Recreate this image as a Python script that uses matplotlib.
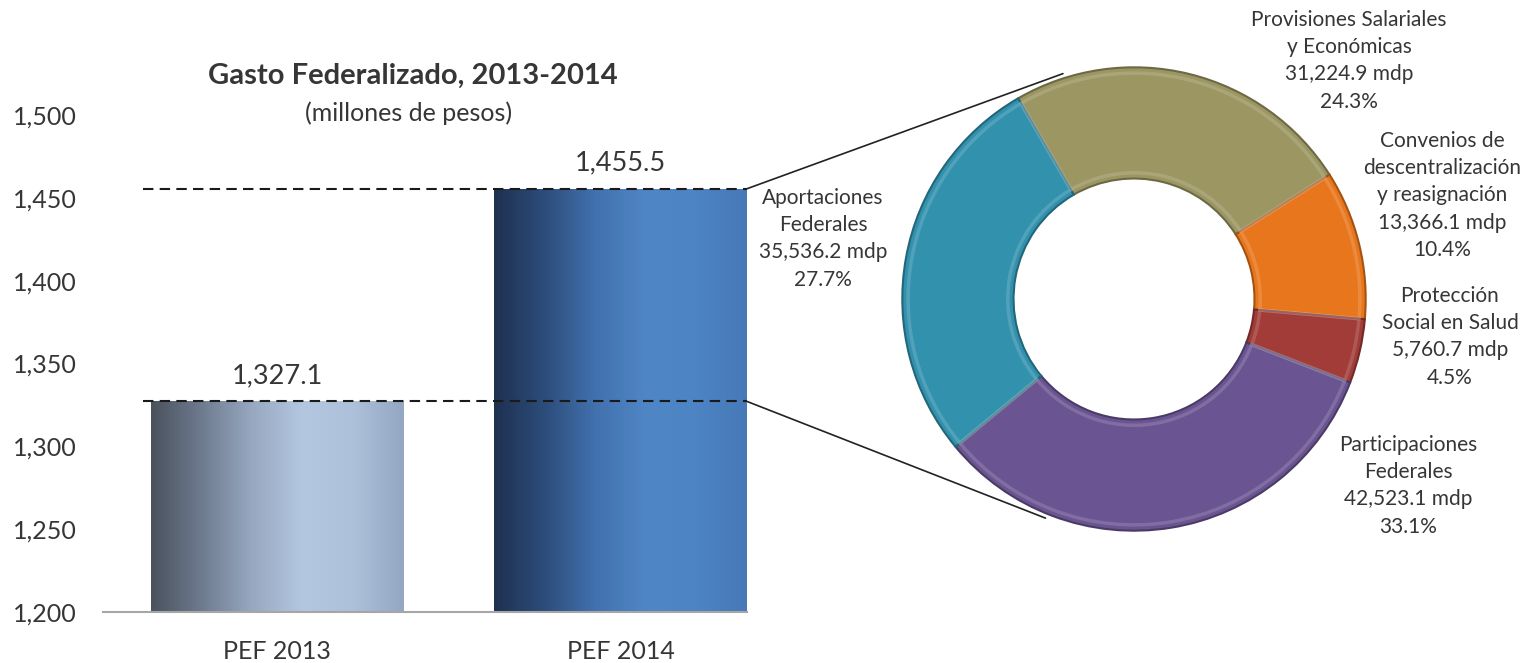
import numpy as np
import matplotlib.pyplot as plt
from matplotlib.colors import LinearSegmentedColormap, to_rgb
from matplotlib.patches import ConnectionPatch

plt.rcParams['font.family'] = ['Lato', 'DejaVu Sans']

# data
years = ["PEF 2013", "PEF 2014"]
totals = [1327.1, 1455.5]
yticks = [1200, 1250, 1300, 1350, 1400, 1450, 1500]

parts = ["Provisiones Salariales\ny Económicas",
         "Convenios de\ndescentralización\ny reasignación",
         "Protección\nSocial en Salud",
         "Participaciones\nFederales",
         "Aportaciones\nFederales"]
amounts = [31224.9, 13366.1, 5760.7, 42523.1, 35536.2]
shares = [24.3, 10.4, 4.5, 33.1, 27.7]

W, H = 1535, 663
fig = plt.figure(figsize=(W / 100, H / 100), dpi=100)
txt = '#363636'

# ---- bar chart ----
ax = fig.add_axes([103 / W, (H - 612) / H, 644 / W, 497 / H])
width = 0.735
bars = ax.bar(range(2), [t - 1200 for t in totals], bottom=1200, width=width,
              color='none', edgecolor='none')

grads = [
    ['#4a525d', '#6e7b8f', '#97a8c0', '#b4c7e1', '#aec1db', '#93a7c2'],
    ['#1e3150', '#2c4d7b', '#4271ae', '#4f86c6', '#4d84c4', '#4679b7'],
]
for b, g in zip(bars, grads):
    cmap = LinearSegmentedColormap.from_list('g', g)
    x0, y0 = b.get_x(), b.get_y()
    im = ax.imshow(np.linspace(0, 1, 256).reshape(1, -1), cmap=cmap,
                   extent=[x0, x0 + b.get_width(), y0, y0 + b.get_height()],
                   aspect='auto', zorder=2)
    im.set_clip_path(b)

for i, t in enumerate(totals):
    ax.text(i, t + 8, f"{t:,.1f}", ha='center', va='bottom', fontsize=19.5, color=txt)
    ax.plot([-0.39, 1 + width / 2], [t, t], ls=(0, (5, 3)), color='#1a1a1a', lw=1.5, zorder=3)

ax.set_xlim(-0.506, 1 + width / 2)
ax.set_ylim(1200, 1500)
ax.set_yticks(yticks)
ax.set_yticklabels([f"{v:,}" for v in yticks], fontsize=18, color=txt)
ax.set_xticks(range(2))
ax.set_xticklabels(years, fontsize=18, color=txt)
ax.tick_params(length=0, axis='y', pad=19)
ax.tick_params(length=0, axis='x', pad=20)
for s in ['top', 'right', 'left']:
    ax.spines[s].set_visible(False)
ax.spines['bottom'].set_color('#a6a6a6')
ax.spines['bottom'].set_linewidth(1.5)

fig.text(413 / W, 1 - 76 / H, "Gasto Federalizado, 2013-2014", ha='center', va='center',
         fontsize=21, fontweight='bold', color=txt)
fig.text(409 / W, 1 - 113 / H, "(millones de pesos)", ha='center', va='center',
         fontsize=18, color=txt)

# ---- donut ----
cx, cy, r = 1134, 299, 234
pax = fig.add_axes([(cx - r) / W, (H - cy - r) / H, 2 * r / W, 2 * r / H])
colors = ['#9b9662', '#e8761c', '#a23c39', '#6a5491', '#3291ad']
wedges, _ = pax.pie(amounts, colors=colors, startangle=120, counterclock=False,
                    radius=1, wedgeprops=dict(width=0.48, linewidth=1.5))
for w, c in zip(wedges, colors):
    w.set_edgecolor(tuple(v * 0.7 for v in to_rgb(c)))
# soft bevel highlight
rim, _ = pax.pie(amounts, startangle=120, counterclock=False, radius=0.975,
                 wedgeprops=dict(width=0.43, linewidth=2.5))
for w in rim:
    w.set_facecolor('none')
    w.set_edgecolor((1, 1, 1, 0.15))
pax.set_xlim(-1.01, 1.01)
pax.set_ylim(-1.01, 1.01)
pax.set_aspect('equal')

# connectors from the 2014 bar to the donut
for t, ang in [(totals[1], 107.5), (totals[0], 248)]:
    a = np.deg2rad(ang)
    con = ConnectionPatch(xyA=(1 + width / 2, t), coordsA=ax.transData,
                          xyB=(1.02 * np.cos(a), 1.02 * np.sin(a)), coordsB=pax.transData,
                          color='#222222', lw=1.2)
    fig.add_artist(con)

# labels
label_pos = [(1349, 22), (1442, 143), (1450, 298), (1408, 447), (823, 200)]
for name, amt, sh, (lx, ly) in zip(parts, amounts, shares, label_pos):
    fig.text(lx / W, 1 - (ly - 12) / H, f"{name}\n{amt:,.1f} mdp\n{sh}%",
             ha='center', va='top', fontsize=15, color=txt, linespacing=1.45)

fig.savefig('out.png', dpi=100)
